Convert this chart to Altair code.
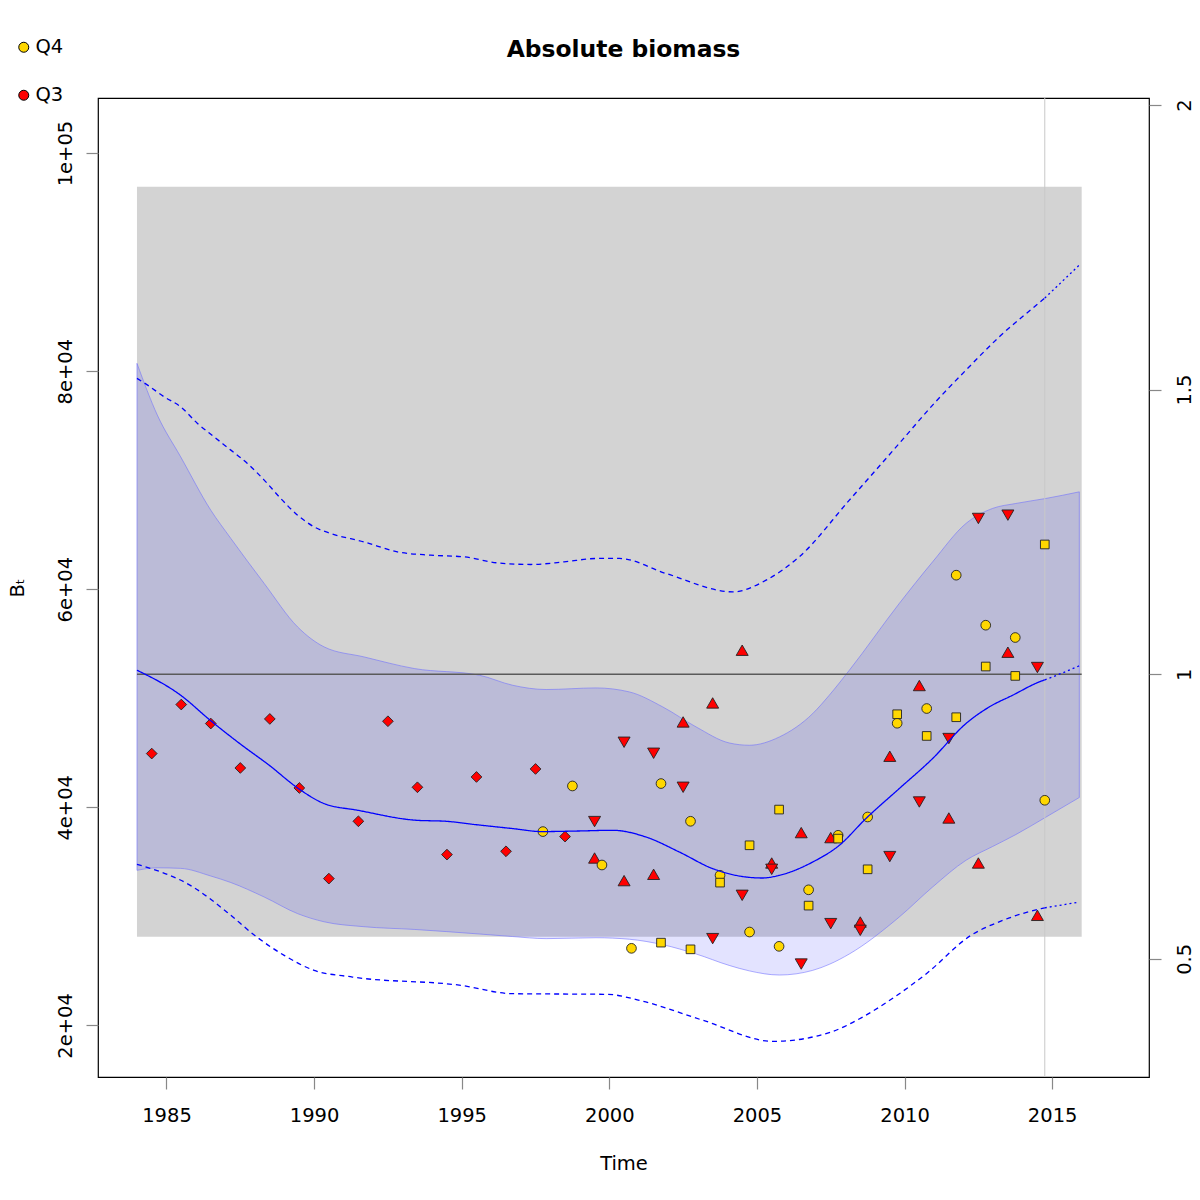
import altair as alt
import pandas as pd

# ---------------- data ----------------
BMSY = 52204

# Q3 index 1 (diamonds)
i1_years = [1984.5, 1985.5, 1986.5, 1987.5, 1988.5, 1989.5, 1990.5, 1991.5,
            1992.5, 1993.5, 1994.5, 1995.5, 1996.5, 1997.5, 1998.5]
i1_vals = [44927, 49424, 47681, 43607, 48103, 41773, 33461, 38718,
           47892, 41837, 35663, 42782, 35966, 43516, 37314]

# Q3 index 2 (triangles up)
i2_years = [1999.5, 2000.5, 2001.5, 2002.5, 2003.5, 2004.5, 2005.5, 2006.5,
            2007.5, 2008.5, 2009.5, 2010.5, 2011.5, 2012.5, 2013.5, 2014.5]
i2_vals = [35351, 33278, 33855, 47828, 49570, 54405, 34892, 37681,
           37222, 29480, 44681, 51167, 39020, 34892, 54222, 30094]

# Q3 index 3 (triangles down)
i3_years = [1999.5, 2000.5, 2001.5, 2002.5, 2003.5, 2004.5, 2005.5, 2006.5,
            2007.5, 2008.5, 2009.5, 2010.5, 2011.5, 2012.5, 2013.5, 2014.5]
i3_vals = [38690, 45965, 44956, 41837, 27957, 31929, 34314, 25626,
           29333, 28718, 35479, 40488, 46304, 66487, 66790, 52818]

# Q4 index 4 (circles)
i4_years = [1997.75, 1998.75, 1999.75, 2000.75, 2001.75, 2002.75, 2003.75, 2004.75,
            2005.75, 2006.75, 2007.75, 2008.75, 2009.75, 2010.75, 2011.75, 2012.75,
            2013.75, 2014.75]
i4_vals = [37773, 41956, 34709, 27067, 42176, 38718, 33764, 28562,
           27250, 32434, 37433, 39112, 47708, 49057, 61286, 56699,
           55570, 40644]

# Q4 index 5 (squares)
i5_years = [2001.75, 2002.75, 2003.75, 2004.75, 2005.75, 2006.75, 2007.75,
            2008.75, 2009.75, 2010.75, 2011.75, 2012.75, 2013.75, 2014.75]
i5_vals = [27590, 26975, 33094, 36516, 39791, 30984, 37130,
           34314, 48534, 46543, 48259, 52910, 52048, 64102]

# estimated biomass (median)
med_years = [1984, 1985.48, 1986.48, 1987.48, 1988.48, 1989.47, 1990.34, 1991.48,
             1993.47, 1994.47, 1995.46, 1996.73, 1997.72, 1998.98, 2000.11, 2001.24,
             2002.37, 2003.5, 2004.63, 2005.19, 2005.76, 2006.89, 2007.79, 2008.69,
             2009.82, 2010.95, 2012.08, 2012.87, 2013.66, 2014.56, 2014.75, 2015.01,
             2015.97]
med_vals = [52570, 50277, 47983, 45846, 43855, 41717, 40341, 39727,
            38809, 38718, 38415, 38048, 37773, 37828, 37892, 37277,
            35901, 34378, 33608, 33516, 33764, 34984, 36516, 38965,
            41717, 44470, 47681, 49204, 50277, 51497, 51690, 51956,
            53029]

# upper dashed line
up_years = [1984, 1984.36, 1984.92, 1985.48, 1986.05, 1986.61, 1987.18, 1987.74,
            1988.31, 1988.87, 1989.44, 1990.0, 1990.56, 1991.69, 1992.82, 1993.95,
            1995.08, 1996.21, 1997.34, 1998.47, 1999.59, 2000.34, 2001.92, 2004.18,
            2005.31, 2006.43, 2008.13, 2009.82, 2010.95, 2012.08, 2013.21, 2014.67,
            2014.75, 2015.92]
up_vals = [79331, 78716, 77643, 76726, 75203, 73973, 72753, 71533,
           70001, 68322, 66790, 65717, 65111, 64341, 63423, 63121,
           62965, 62414, 62267, 62506, 62818, 62818, 61442, 59754,
           60827, 62965, 68166, 73368, 76882, 80092, 83147, 86514,
           86700, 89725]

# lower dashed line
lo_years = [1984, 1985.9, 1987.0, 1988.06, 1989.0, 1990.0, 1991.3, 1994.97,
            1996.7, 1999.94, 2001.02, 2003.18, 2005.55, 2007.5, 2008.58, 2009.66,
            2010.74, 2012.25, 2013.33, 2014.63, 2014.75, 2015.92]
lo_vals = [34773, 32691, 30500, 28103, 26400, 25048, 24434, 23672,
           22911, 22847, 22296, 20461, 18535, 19388, 20764, 22599,
           24745, 28259, 29635, 30709, 30780, 31314]

# confidence band of biomass
band_years = [1984, 1984.69, 1985.48, 1986.5, 1987.18, 1988.31, 1989.44, 1990.34,
              1991.69, 1993.39, 1995.6, 1996.72, 1997.86, 1999.55, 2000.68, 2001.81,
              2002.94, 2004.06, 2004.74, 2005.76, 2006.89, 2007.45, 2008.13, 2009.82,
              2010.95, 2012.08, 2012.98, 2013.77, 2014.79, 2015.92]
band_hi = [80707, 75964, 72138, 67249, 64652, 60524, 56543, 54708,
           53791, 52726, 52112, 51194, 50800, 50947, 50580, 49204,
           47369, 45901, 45690, 46451, 48598, 50277, 52570, 58689,
           62506, 66028, 67405, 67863, 68322, 68928]
band_lo = [34222, 34450, 34400, 33700, 33100, 31773, 30250, 29500,
           29050, 28800, 28380, 28150, 27957, 28040, 27900, 27400,
           26550, 25500, 25000, 24620, 25048, 25600, 26550, 29938,
           32691, 35140, 36400, 37500, 39100, 40900]

# Bmsy confidence region
bmsy_rect_x = [1984, 2016]
bmsy_rect_y = [28134, 96910]
last_obs = 2014.75

x_ticks = [1985, 1990, 1995, 2000, 2005, 2010, 2015]
y_ticks = [20000, 40000, 60000, 80000, 100000]
r_ticks = [0.5, 1, 1.5, 2]

X_DOMAIN = [1982.68, 2018.28]
Y_DOMAIN = [15268, 105044]
R_DOMAIN = [Y_DOMAIN[0] / BMSY, Y_DOMAIN[1] / BMSY]

FONT = "DejaVu Sans"

# ---------------- tables ----------------
rows = []
for yrs, vals, s, q in [(i1_years, i1_vals, "I1", "Q3"), (i2_years, i2_vals, "I2", "Q3"),
                        (i3_years, i3_vals, "I3", "Q3"), (i4_years, i4_vals, "I4", "Q4"),
                        (i5_years, i5_vals, "I5", "Q4")]:
    for yv, vv in zip(yrs, vals):
        rows.append({"year": yv, "value": vv, "series": s, "quarter": q})
pts = pd.DataFrame(rows)

lrows = []
for name, yrs, vals, style in [("med", med_years, med_vals, "solid"),
                               ("up", up_years, up_vals, "dashed"),
                               ("lo", lo_years, lo_vals, "dashed")]:
    for yv, vv in zip(yrs, vals):
        if yv <= last_obs:
            lrows.append({"year": yv, "value": vv, "seg": name + "_fit", "style": style})
        if yv >= last_obs:
            lrows.append({"year": yv, "value": vv, "seg": name + "_fc", "style": "dotted"})
lines = pd.DataFrame(lrows)

band = pd.DataFrame({"year": band_years, "lo": band_lo, "hi": band_hi})
rect = pd.DataFrame({"x": [bmsy_rect_x[0]], "x2": [bmsy_rect_x[1]],
                     "y": [bmsy_rect_y[0]], "y2": [bmsy_rect_y[1]]})
bmsy_df = pd.DataFrame({"x": [1984], "x2": [2016], "ratio": [1.0]})
vline = pd.DataFrame({"year": [last_obs]})

xscale = alt.Scale(domain=X_DOMAIN, nice=False, zero=False)
yscale = alt.Scale(domain=Y_DOMAIN, nice=False, zero=False)

x_axis = alt.Axis(values=x_ticks, format="d", labelBaseline="alphabetic", labelPadding=32,
                  title="Time", titleBaseline="alphabetic", titleY=92)
y_axis = alt.Axis(orient="left", values=y_ticks,
                  labelExpr="datum.value == 100000 ? '1e+05' : (datum.value/10000) + 'e+04'",
                  labelAngle=270, labelAlign="center", labelBaseline="alphabetic",
                  labelPadding=15, title="Bₜ", titleAngle=270, titleAlign="center",
                  titleBaseline="alphabetic", titleX=-75)

# group A: grey Bmsy region and biomass band (left axis)
rect_layer = alt.Chart(rect).mark_rect(fill="#d3d3d3").encode(
    x=alt.X("x:Q", scale=xscale, axis=x_axis),
    x2="x2:Q",
    y=alt.Y("y:Q", scale=yscale, axis=y_axis),
    y2="y2:Q",
)
band_layer = alt.Chart(band).mark_area(
    fill="#0000ff", fillOpacity=0.11, stroke="#6a6aff", strokeOpacity=0.55,
    strokeWidth=1, interpolate="monotone"
).encode(
    x=alt.X("year:Q", scale=xscale),
    y=alt.Y("hi:Q", scale=yscale),
    y2="lo:Q",
)
group_a = alt.layer(rect_layer, band_layer)

# right axis: B/Bmsy, with the Bmsy line
bmsy_layer = alt.Chart(bmsy_df).mark_rule(color="#5a5a5a", strokeWidth=1.6).encode(
    x=alt.X("x:Q", scale=xscale),
    x2="x2:Q",
    y=alt.Y("ratio:Q", scale=alt.Scale(domain=R_DOMAIN, nice=False, zero=False),
            axis=alt.Axis(orient="right", values=r_ticks, format="~g", labelAngle=270,
                          labelAlign="center", labelBaseline="alphabetic",
                          labelPadding=29.5, title=None)),
)

# group B: vertical line, index points, lines
vline_layer = alt.Chart(vline).mark_rule(color="#c8c8c8", strokeWidth=1).encode(
    x=alt.X("year:Q", scale=xscale)
)
series_dom = ["I1", "I2", "I3", "I4", "I5"]
points_layer = alt.Chart(pts).mark_point(filled=True, stroke="#222222", strokeWidth=0.9,
                                         opacity=1).encode(
    x=alt.X("year:Q", scale=xscale),
    y=alt.Y("value:Q", scale=yscale, axis=None),
    fill=alt.Fill("quarter:N", scale=alt.Scale(domain=["Q4", "Q3"], range=["#ffd700", "#ff0000"]),
                  legend=alt.Legend(orient="none", legendX=-84, legendY=-60.5, title=None,
                                    symbolType="circle", symbolSize=100,
                                    symbolStrokeColor="black", symbolStrokeWidth=1,
                                    labelFontSize=19.5, labelFont=FONT, labelColor="black",
                                    labelOffset=2, rowPadding=27, padding=0)),
    shape=alt.Shape("series:N", scale=alt.Scale(domain=series_dom,
                    range=["diamond", "triangle-up", "triangle-down", "circle", "square"]),
                    legend=None),
    size=alt.Size("series:N", scale=alt.Scale(type="ordinal", domain=series_dom,
                  range=[115, 144, 144, 94, 75]), legend=None),
)
lines_layer = alt.Chart(lines).mark_line(color="#0000ff", strokeWidth=1.3,
                                         interpolate="monotone").encode(
    x=alt.X("year:Q", scale=xscale),
    y=alt.Y("value:Q", scale=yscale, axis=None),
    detail="seg:N",
    strokeDash=alt.StrokeDash("style:N", scale=alt.Scale(domain=["solid", "dashed", "dotted"],
                              range=[[1, 0], [5, 4], [2, 3]]), legend=None),
    order="year:Q",
)
group_b = alt.layer(vline_layer, points_layer, lines_layer)

chart = alt.layer(group_a, bmsy_layer, group_b).resolve_scale(
    y="independent"
).properties(
    width=1051, height=979,
    padding={"left": 90, "top": 90, "right": 43, "bottom": 112},
    autosize=alt.AutoSizeParams(type="none"),
    title=alt.TitleParams("Absolute biomass", font=FONT, fontSize=23.4, fontWeight="bold",
                          color="black", anchor="middle", frame="group",
                          baseline="alphabetic", offset=-42.8),
).configure_axis(
    labelFont=FONT, titleFont=FONT, labelFontSize=19.5, titleFontSize=19.5,
    titleFontWeight="normal", labelColor="black", titleColor="black",
    tickColor="#888888", tickSize=12, tickWidth=1.2, domain=False, grid=False,
    labelFlush=False, labelOverlap=False,
).configure_view(stroke="black", strokeWidth=1.2)

chart.save("out.html", embed_options={"renderer": "svg", "actions": False})
